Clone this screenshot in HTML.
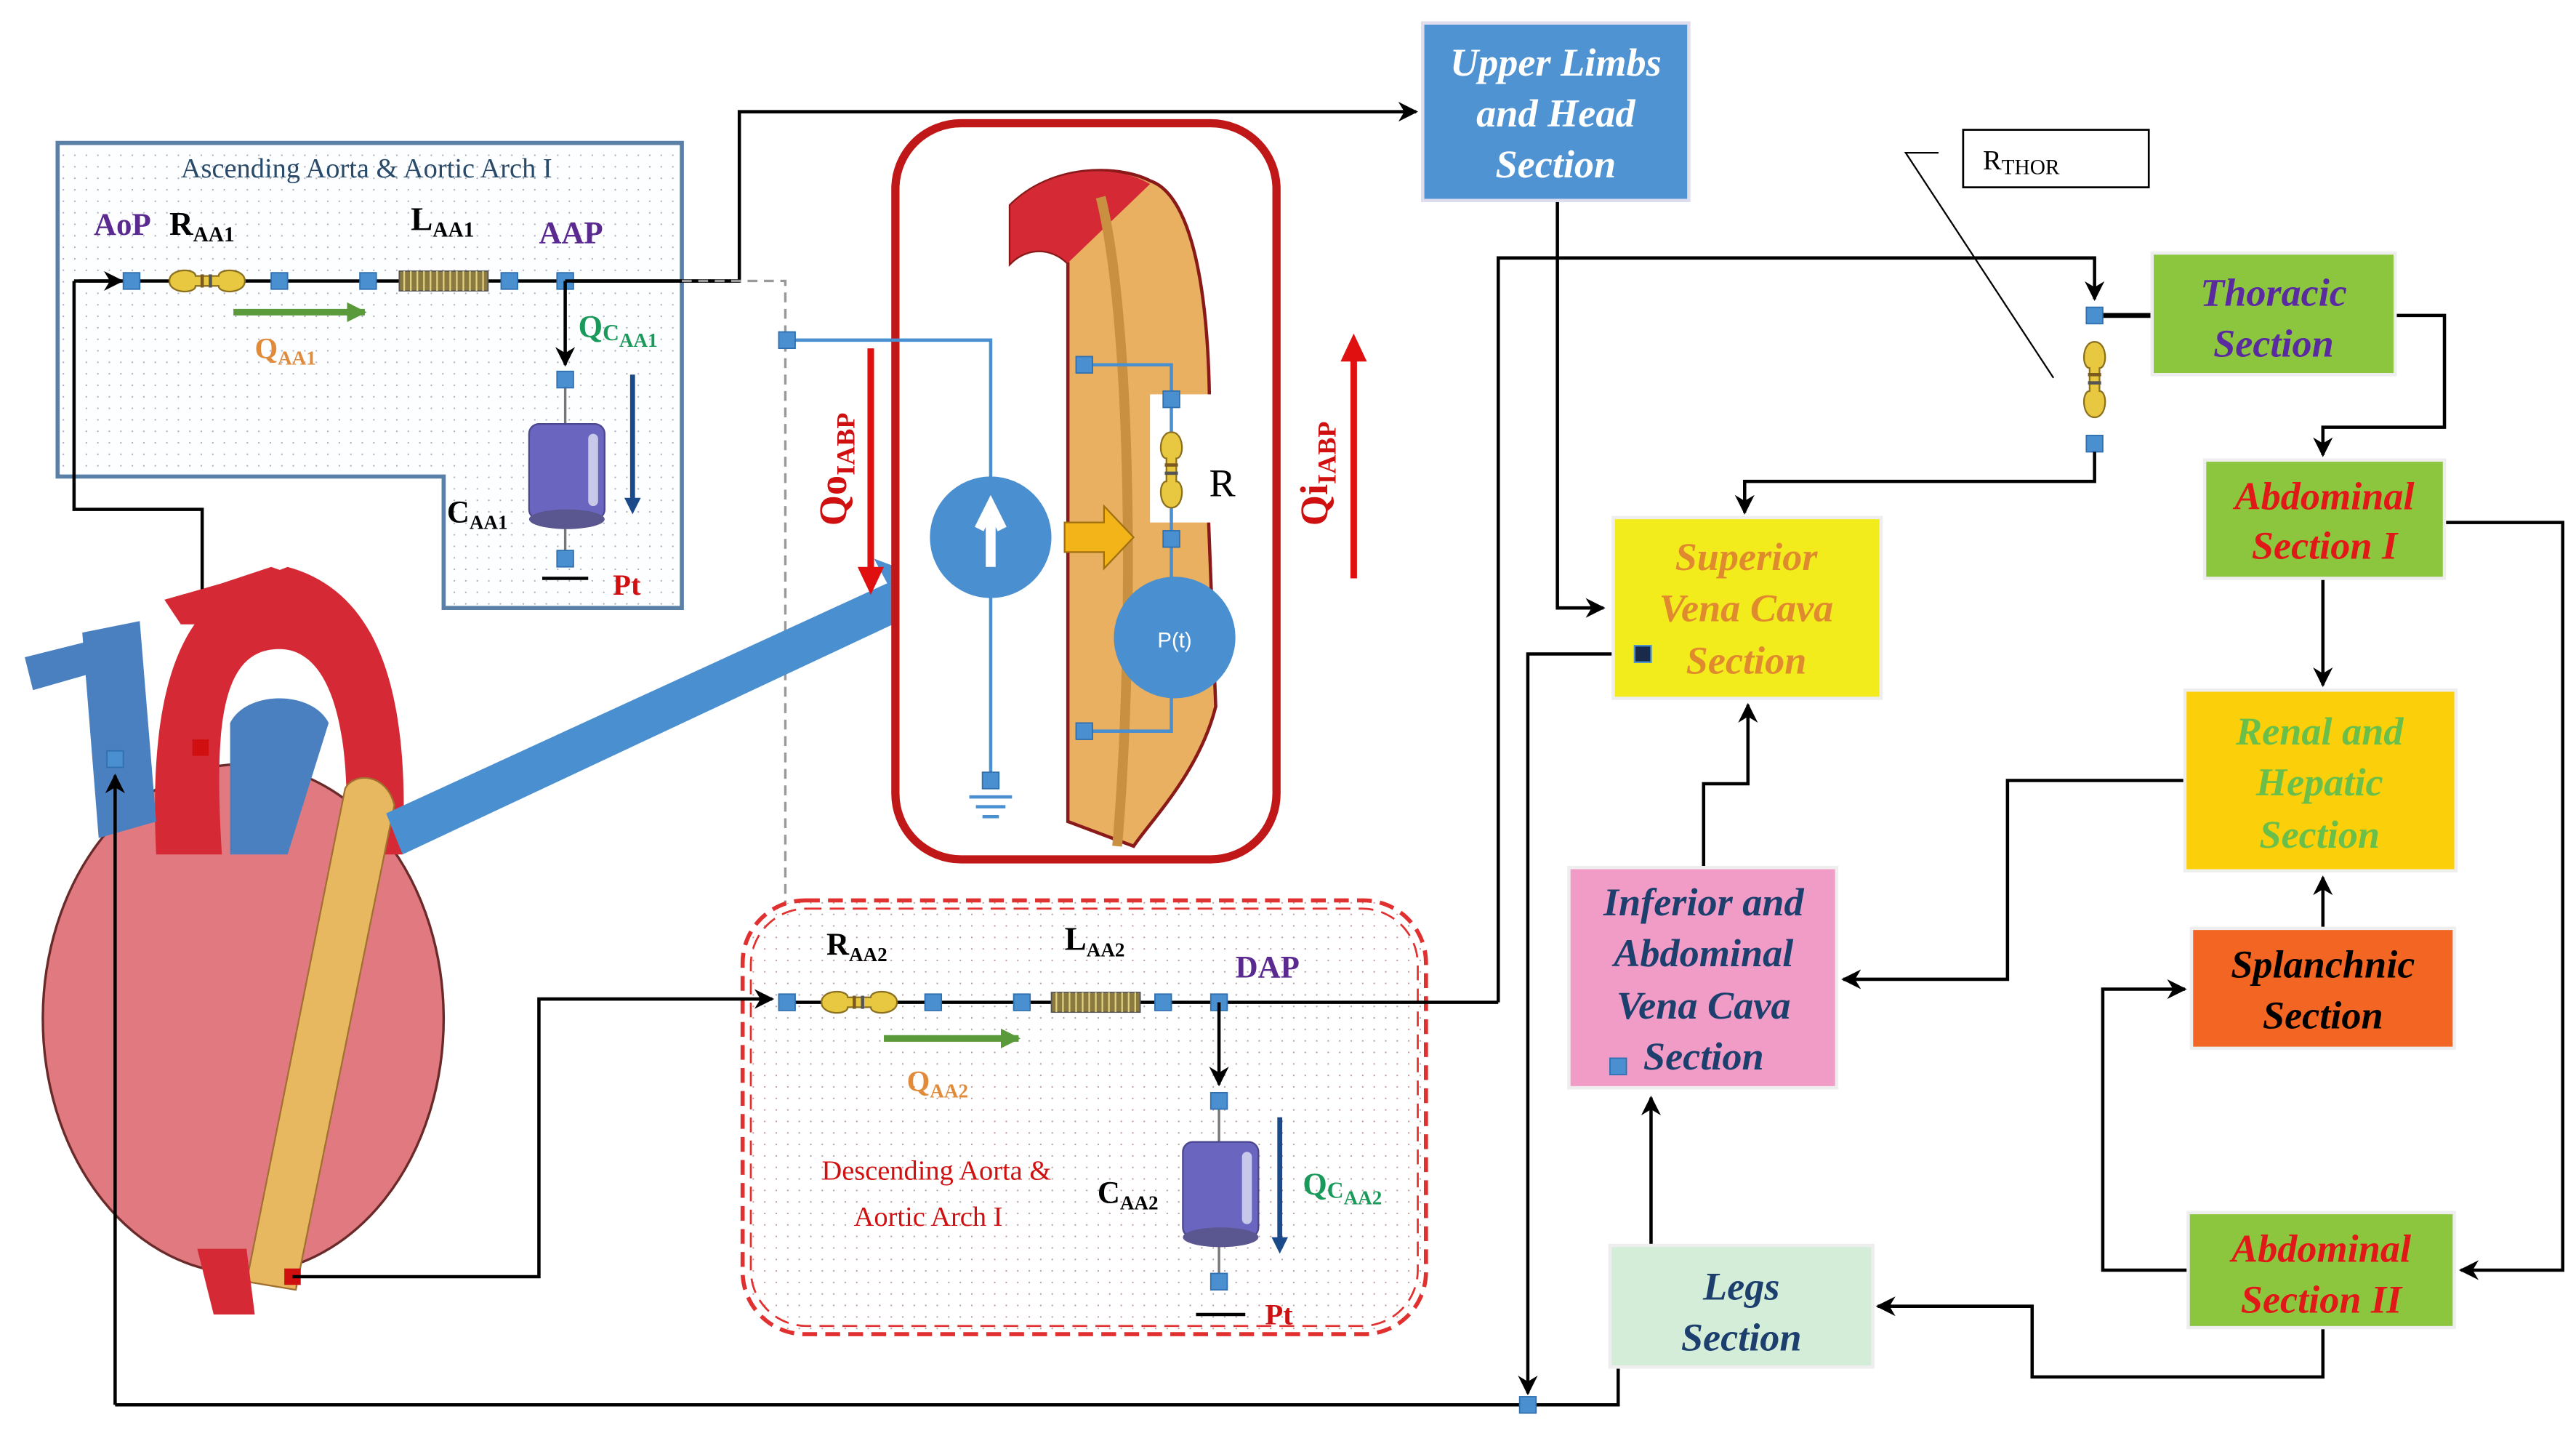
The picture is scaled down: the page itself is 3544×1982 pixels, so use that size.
<!DOCTYPE html>
<html><head><meta charset="utf-8"><style>html,body{margin:0;padding:0;background:#fff}svg{display:block}</style></head>
<body>
<svg width="3544" height="1982" viewBox="0 0 1568 877" xmlns="http://www.w3.org/2000/svg" font-family="Liberation Serif, serif">
<defs>
<pattern id="dotb" width="7" height="7" patternUnits="userSpaceOnUse"><rect width="7" height="7" fill="#fdfeff"/><circle cx="3.5" cy="3.5" r="0.5" fill="#aab"/></pattern>
<pattern id="dotr" width="7" height="7" patternUnits="userSpaceOnUse"><rect width="7" height="7" fill="#fff"/><circle cx="3.5" cy="3.5" r="0.5" fill="#b99"/></pattern>
<marker id="ah" viewBox="0 0 10 10" refX="9" refY="5" markerWidth="6" markerHeight="6" orient="auto-start-reverse"><path d="M0,0 L10,5 L0,10 L3,5 z" fill="#000"/></marker>
<marker id="ahg" viewBox="0 0 10 10" refX="9" refY="5" markerWidth="6" markerHeight="6" orient="auto"><path d="M0,0 L10,5 L0,10 L3,5 z" fill="#999"/></marker>
<marker id="ahgr" viewBox="0 0 10 10" refX="9" refY="5" markerWidth="3" markerHeight="3" orient="auto"><path d="M0,0 L10,5 L0,10 z" fill="#5a9a3a"/></marker>
<g id="nd"><rect x="-5" y="-5" width="10" height="10" fill="#4a90d0" stroke="#3070b0" stroke-width="0.8"/></g>
<g id="res"><path d="M0,0 C0,-8 16,-8 16,-3 L30,-3 C30,-8 46,-8 46,0 C46,8 30,8 30,3 L16,3 C16,8 0,8 0,0z" fill="#e8c840" stroke="#8a7020" stroke-width="1"/><rect x="19" y="-4" width="2" height="8" fill="#7a5a20"/><rect x="24" y="-4" width="2" height="8" fill="#555"/></g>
<g id="ind"><rect x="0" y="-6" width="54" height="12" fill="#8a7a40" stroke="#555" stroke-width="0.8"/><path d="M3,-6 v12 M7,-6 v12 M11,-6 v12 M15,-6 v12 M19,-6 v12 M23,-6 v12 M27,-6 v12 M31,-6 v12 M35,-6 v12 M39,-6 v12 M43,-6 v12 M47,-6 v12 M51,-6 v12" stroke="#e0d080" stroke-width="1"/></g>
<g id="cap"><rect x="0" y="0" width="46" height="58" rx="6" fill="#6a66c0" stroke="#4a4690"/><ellipse cx="23" cy="58" rx="23" ry="6" fill="#5a5690"/><rect x="36" y="6" width="6" height="44" rx="3" fill="#c8c8e8"/></g>
</defs>

<!-- Ascending box -->
<polygon points="35,87 415,87 415,370 270,370 270,290 35,290" fill="url(#dotb)" stroke="#5a80a8" stroke-width="2.5"/>
<text x="110" y="108" font-size="17" fill="#2a4a6a">Ascending Aorta &amp; Aortic Arch I</text>
<line x1="48" y1="171" x2="450" y2="171" stroke="#000" stroke-width="2"/>
<line x1="45" y1="171" x2="74" y2="171" stroke="#000" stroke-width="2" marker-end="url(#ah)"/>
<use href="#res" x="103" y="171"/>
<use href="#ind" x="243" y="171"/>
<use href="#nd" x="80" y="171"/><use href="#nd" x="170" y="171"/><use href="#nd" x="224" y="171"/><use href="#nd" x="310" y="171"/><use href="#nd" x="344" y="171"/>
<text x="57" y="143" font-size="19" font-weight="bold" fill="#5a2a90">AoP</text>
<text x="103" y="143" font-size="20" font-weight="bold">R<tspan font-size="13" dy="4">AA1</tspan></text>
<text x="250" y="140" font-size="20" font-weight="bold">L<tspan font-size="13" dy="4">AA1</tspan></text>
<text x="328" y="148" font-size="19" font-weight="bold" fill="#5a2a90">AAP</text>
<path d="M142,190 H222" stroke="#5a9a3a" stroke-width="4" marker-end="url(#ahgr)"/>
<text x="155" y="218" font-size="18" font-weight="bold" fill="#e08a3a">Q<tspan font-size="12" dy="4">AA1</tspan></text>
<line x1="344" y1="171" x2="344" y2="222" stroke="#000" stroke-width="2" marker-end="url(#ah)"/>
<line x1="344" y1="231" x2="344" y2="340" stroke="#777" stroke-width="1.5"/>
<use href="#nd" x="344" y="231"/>
<use href="#cap" x="322" y="258"/>
<use href="#nd" x="344" y="340"/>
<line x1="330" y1="352" x2="358" y2="352" stroke="#000" stroke-width="2"/>
<text x="373" y="362" font-size="18" font-weight="bold" fill="#d01010">Pt</text>
<text x="352" y="205" font-size="19" font-weight="bold" fill="#1a9a5a">Q<tspan font-size="14" dy="2">C</tspan><tspan font-size="12" dy="4">AA1</tspan></text>
<line x1="385" y1="228" x2="385" y2="305" stroke="#1a4a8a" stroke-width="3"/><polygon points="380,303 390,303 385,313" fill="#1a4a8a"/>
<text x="272" y="318" font-size="19" font-weight="bold">C<tspan font-size="12" dy="4">AA1</tspan></text>

<!-- connectors top-left -->
<polyline points="344,171 450,171 450,68 862,68" fill="none" stroke="#000" stroke-width="2" marker-end="url(#ah)"/>
<polyline points="415,171 478,171 478,598" fill="none" stroke="#999" stroke-width="1.5" stroke-dasharray="6,4" marker-end="url(#ahg)"/>
<polyline points="45,171 45,310 123,310 123,455" fill="none" stroke="#000" stroke-width="2"/>

<!-- Heart -->
<ellipse cx="148" cy="620" rx="122" ry="155" fill="#e07a80" stroke="#6a2a2a" stroke-width="1.5"/>
<path d="M95,520 C90,420 110,370 150,355 L175,345 C230,360 250,420 245,520 L210,520 C215,440 200,395 170,395 C135,395 130,440 135,520 Z" fill="#d52a35"/>
<path d="M100,365 L135,355 L165,345 L185,352 L175,380 L110,380 Z" fill="#d52a35"/>
<path d="M50,385 L85,378 L95,500 L60,510 Z" fill="#4a80c0"/>
<path d="M15,400 L55,390 L55,410 L20,420Z" fill="#4a80c0"/>
<path d="M140,440 C150,420 190,420 200,440 L175,520 L140,520 Z" fill="#4a80c0"/>
<path d="M210,480 C215,470 235,470 240,490 L180,785 L150,780 Z" fill="#e8b860" stroke="#a07030"/>
<path d="M120,760 L150,760 L155,800 L130,800Z" fill="#d52a35"/>
<rect x="117" y="450" width="10" height="10" fill="#d01010"/>
<rect x="173" y="772" width="10" height="10" fill="#d01010"/>
<use href="#nd" x="70" y="462"/>
<polyline points="70,855 70,472" fill="none" stroke="#000" stroke-width="2" marker-end="url(#ah)"/>

<!-- big blue arrow -->
<polygon points="235,495 540,355 532,340 572,355 560,392 552,376 245,520" fill="#4a8fd0"/>

<!-- IABP box -->
<rect x="545" y="75" width="232" height="448" rx="40" fill="#fff" stroke="#c01818" stroke-width="5"/>
<path d="M615,125 C640,100 680,100 700,110 C730,120 740,200 735,300 L740,430 C730,470 700,500 690,515 L650,500 L650,160 C640,150 625,150 615,160 Z" fill="#e8b060" stroke="#8a1a1a" stroke-width="2"/>
<path d="M615,125 C640,100 680,100 700,112 L650,160 C640,150 625,150 615,160 Z" fill="#d52a35"/>
<path d="M670,120 C690,200 690,400 680,515" stroke="#c89040" stroke-width="6" fill="none"/>
<rect x="700" y="240" width="70" height="78" fill="#fff"/>
<text x="736" y="302" font-size="24">R</text>
<polyline points="479,207 603,207 603,475" fill="none" stroke="#4a90d0" stroke-width="2"/>
<polyline points="660,222 713,222 713,445 660,445" fill="none" stroke="#4a90d0" stroke-width="2"/>
<use href="#nd" x="479" y="207"/><use href="#nd" x="660" y="222"/><use href="#nd" x="713" y="243"/><use href="#nd" x="713" y="328"/><use href="#nd" x="660" y="445"/><use href="#nd" x="603" y="475"/>
<use href="#res" x="0" y="0" transform="translate(713,263) rotate(90)"/>
<circle cx="603" cy="327" r="37" fill="#4a8fd0"/>
<path d="M603,345 V315 M596,322 L603,308 L610,322" stroke="#fff" stroke-width="6" fill="none"/>
<circle cx="715" cy="388" r="37" fill="#4a8fd0"/>
<text x="715" y="394" font-size="13" fill="#fff" text-anchor="middle" font-family="Liberation Sans, sans-serif">P(t)</text>
<polygon points="648,318 672,318 672,308 690,327 672,346 672,336 648,336" fill="#f2b418" stroke="#a07010"/>
<path d="M590,485 H616 M594,491 H612 M598,497 H608" stroke="#4a90d0" stroke-width="2"/>
<text transform="translate(515,320) rotate(-90)" font-size="24" font-weight="bold" fill="#d01010">Qo<tspan font-size="16" dy="5">IABP</tspan></text>
<line x1="530" y1="212" x2="530" y2="352" stroke="#e01010" stroke-width="4"/><polygon points="522,345 538,345 530,362" fill="#e01010"/>
<text transform="translate(808,320) rotate(-90)" font-size="24" font-weight="bold" fill="#d01010">Qi<tspan font-size="16" dy="5">IABP</tspan></text>
<line x1="824" y1="215" x2="824" y2="352" stroke="#e01010" stroke-width="4"/><polygon points="816,220 832,220 824,203" fill="#e01010"/>

<!-- Descending box -->
<rect x="452" y="548" width="416" height="264" rx="38" fill="url(#dotr)" stroke="#e03030" stroke-width="2.5" stroke-dasharray="9,5"/>
<rect x="457" y="553" width="406" height="254" rx="34" fill="none" stroke="#e03030" stroke-width="1.2" stroke-dasharray="9,5"/>
<polyline points="178,777 328,777 328,608 470,608" fill="none" stroke="#000" stroke-width="2" marker-end="url(#ah)"/>
<line x1="479" y1="610" x2="912" y2="610" stroke="#000" stroke-width="2"/>
<polyline points="912,610 912,157 1275,157 1275,182" fill="none" stroke="#000" stroke-width="2" marker-end="url(#ah)"/>
<use href="#res" x="500" y="610"/>
<use href="#ind" x="640" y="610"/>
<use href="#nd" x="479" y="610"/><use href="#nd" x="568" y="610"/><use href="#nd" x="622" y="610"/><use href="#nd" x="708" y="610"/><use href="#nd" x="742" y="610"/>
<text x="503" y="581" font-size="19" font-weight="bold">R<tspan font-size="12" dy="4">AA2</tspan></text>
<text x="648" y="578" font-size="20" font-weight="bold">L<tspan font-size="12" dy="4">AA2</tspan></text>
<text x="752" y="595" font-size="19" font-weight="bold" fill="#5a2a90">DAP</text>
<path d="M538,632 H620" stroke="#5a9a3a" stroke-width="4" marker-end="url(#ahgr)"/>
<text x="552" y="664" font-size="18" font-weight="bold" fill="#e08a3a">Q<tspan font-size="12" dy="4">AA2</tspan></text>
<line x1="742" y1="610" x2="742" y2="660" stroke="#000" stroke-width="2" marker-end="url(#ah)"/>
<line x1="742" y1="670" x2="742" y2="780" stroke="#777" stroke-width="1.5"/>
<use href="#nd" x="742" y="670"/>
<use href="#cap" x="720" y="695"/>
<use href="#nd" x="742" y="780"/>
<line x1="728" y1="800" x2="758" y2="800" stroke="#000" stroke-width="2"/>
<text x="770" y="806" font-size="18" font-weight="bold" fill="#d01010">Pt</text>
<text x="793" y="727" font-size="19" font-weight="bold" fill="#1a9a5a">Q<tspan font-size="14" dy="2">C</tspan><tspan font-size="12" dy="4">AA2</tspan></text>
<line x1="779" y1="680" x2="779" y2="755" stroke="#1a4a8a" stroke-width="3"/><polygon points="774,753 784,753 779,763" fill="#1a4a8a"/>
<text x="668" y="732" font-size="19" font-weight="bold">C<tspan font-size="12" dy="4">AA2</tspan></text>
<text x="570" y="718" font-size="17" fill="#d01010" text-anchor="middle">Descending Aorta &amp;</text>
<text x="565" y="746" font-size="17" fill="#d01010" text-anchor="middle">Aortic Arch I</text>

<!-- right side connectors -->
<polyline points="948,122 948,370 976,370" fill="none" stroke="#000" stroke-width="2" marker-end="url(#ah)"/>
<polyline points="1000,398 930,398 930,848" fill="none" stroke="#000" stroke-width="2" marker-end="url(#ah)"/>
<polyline points="70,855 985,855 985,832" fill="none" stroke="#000" stroke-width="2"/>
<use href="#nd" x="930" y="855"/>
<polyline points="1275,192 1310,192" stroke="#000" stroke-width="3"/>
<use href="#res" x="0" y="0" transform="translate(1275,208) rotate(90)"/>
<use href="#nd" x="1275" y="192"/><use href="#nd" x="1275" y="270"/>
<polyline points="1275,275 1275,293 1062,293 1062,312" fill="none" stroke="#000" stroke-width="2" marker-end="url(#ah)"/>
<polyline points="1458,192 1488,192 1488,260 1414,260 1414,277" fill="none" stroke="#000" stroke-width="2" marker-end="url(#ah)"/>
<polyline points="1414,352 1414,417" fill="none" stroke="#000" stroke-width="2" marker-end="url(#ah)"/>
<polyline points="1488,318 1560,318 1560,773 1498,773" fill="none" stroke="#000" stroke-width="2" marker-end="url(#ah)"/>
<polyline points="1330,475 1222,475 1222,596 1122,596" fill="none" stroke="#000" stroke-width="2" marker-end="url(#ah)"/>
<polyline points="1414,565 1414,534" fill="none" stroke="#000" stroke-width="2" marker-end="url(#ah)"/>
<polyline points="1332,773 1280,773 1280,602 1330,602" fill="none" stroke="#000" stroke-width="2" marker-end="url(#ah)"/>
<polyline points="1414,808 1414,838 1237,838 1237,795 1143,795" fill="none" stroke="#000" stroke-width="2" marker-end="url(#ah)"/>
<polyline points="1005,758 1005,668" fill="none" stroke="#000" stroke-width="2" marker-end="url(#ah)"/>
<polyline points="1037,528 1037,477 1064,477 1064,429" fill="none" stroke="#000" stroke-width="2" marker-end="url(#ah)"/>

<!-- R_THOR callout -->
<rect x="1195" y="79" width="113" height="35" fill="#fff" stroke="#000" stroke-width="1.2"/>
<text x="1207" y="103" font-size="17">R<tspan font-size="13" dy="3">THOR</tspan></text>
<polyline points="1180,93 1160,93 1250,230" fill="none" stroke="#000" stroke-width="1"/>

<!-- Boxes -->
<g font-weight="bold" font-style="italic" font-size="24" text-anchor="middle">
<rect x="866" y="14" width="162" height="108" fill="#4f93d2" stroke="#dde" stroke-width="2"/>
<text x="947" y="46" fill="#fff">Upper Limbs</text><text x="947" y="77" fill="#fff">and Head</text><text x="947" y="108" fill="#fff">Section</text>

<rect x="1310" y="154" width="148" height="74" fill="#8cc63f" stroke="#eee" stroke-width="2"/>
<text x="1384" y="186" fill="#5a2aa0">Thoracic</text><text x="1384" y="217" fill="#5a2aa0">Section</text>

<rect x="1342" y="280" width="146" height="72" fill="#8cc63f" stroke="#eee" stroke-width="2"/>
<text x="1415" y="310" fill="#e01818">Abdominal</text><text x="1415" y="340" fill="#e01818">Section I</text>

<rect x="982" y="315" width="163" height="110" fill="#f2ec1c" stroke="#eee" stroke-width="2"/>
<text x="1063" y="347" fill="#e08a30">Superior</text><text x="1063" y="378" fill="#e08a30">Vena Cava</text><text x="1063" y="410" fill="#e08a30">Section</text>

<rect x="1330" y="420" width="165" height="110" fill="#fbcf0a" stroke="#eee" stroke-width="2"/>
<text x="1412" y="453" fill="#6abf4a">Renal and</text><text x="1412" y="484" fill="#6abf4a">Hepatic</text><text x="1412" y="516" fill="#6abf4a">Section</text>

<rect x="1334" y="565" width="160" height="73" fill="#f26522" stroke="#eee" stroke-width="2"/>
<text x="1414" y="595" fill="#000">Splanchnic</text><text x="1414" y="626" fill="#000">Section</text>

<rect x="955" y="528" width="163" height="134" fill="#f19cc6" stroke="#eee" stroke-width="2"/>
<text x="1037" y="557" fill="#1c3f6e">Inferior and</text><text x="1037" y="588" fill="#1c3f6e">Abdominal</text><text x="1037" y="620" fill="#1c3f6e">Vena Cava</text><text x="1037" y="651" fill="#1c3f6e">Section</text>

<rect x="1332" y="738" width="162" height="70" fill="#8cc63f" stroke="#eee" stroke-width="2"/>
<text x="1413" y="768" fill="#e01818">Abdominal</text><text x="1413" y="799" fill="#e01818">Section II</text>

<rect x="980" y="758" width="160" height="74" fill="#d4edd8" stroke="#eee" stroke-width="2"/>
<text x="1060" y="791" fill="#1c3f6e">Legs</text><text x="1060" y="822" fill="#1c3f6e">Section</text>
</g>
<rect x="995" y="393" width="10" height="10" fill="#1a2a4a" stroke="#4a90d0"/>
<use href="#nd" x="985" y="649"/>
</svg>
</body></html>
